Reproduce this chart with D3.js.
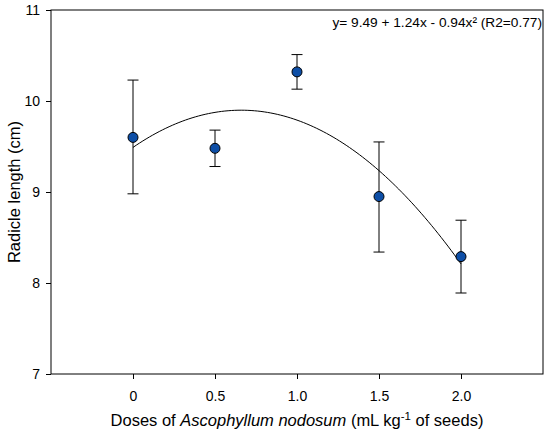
<!DOCTYPE html>
<html>
<head>
<meta charset="utf-8">
<script src="https://cdn.jsdelivr.net/npm/d3@7"></script>
<style>
  body { margin: 0; background: #fff; }
  text { font-family: "Liberation Sans", Arial, sans-serif; fill: #000; }
</style>
</head>
<body>
<div id="chart"></div>
<script>
// data
const doses = [0, 0.5, 1.0, 1.5, 2.0];
const means = [9.60, 9.48, 10.32, 8.95, 8.29];
const errUp = [10.23, 9.68, 10.51, 9.55, 8.69];
const errDown = [8.98, 9.28, 10.13, 8.34, 7.89];
const xTicks = [0, 0.5, 1.0, 1.5, 2.0];
const xTickLabels = ["0", "0.5", "1.0", "1.5", "2.0"];
const yTicks = [7, 8, 9, 10, 11];
// regression coefficients shown in the top-right label
const coef = [9.49, 1.24, -0.94];

var width = 550;
var height = 437;
var margin = { top: 10, right: 7, bottom: 63, left: 51 };
var w = width - margin.left - margin.right;
var h = height - margin.top - margin.bottom;

var svg = d3.select("#chart").append("svg")
  .attr("width", width)
  .attr("height", height);

var g = svg.append("g")
  .attr("transform", "translate(" + margin.left + "," + margin.top + ")");

var x = d3.scaleLinear().domain([-0.5, 2.5]).range([0, w]);
var y = d3.scaleLinear().domain([7, 11]).range([h, 0]);

// frame
g.append("rect")
  .attr("width", w)
  .attr("height", h)
  .attr("fill", "none")
  .attr("stroke", "#000")
  .attr("stroke-width", 1);

// axes
var xAxis = g.append("g")
  .attr("transform", "translate(0," + h + ")")
  .call(d3.axisBottom(x).tickValues(xTicks)
    .tickFormat((d, i) => xTickLabels[i]).tickSize(5).tickPadding(12));
var yAxis = g.append("g")
  .call(d3.axisLeft(y).tickValues(yTicks).tickFormat(d3.format("d"))
    .tickSize(5).tickPadding(6));
[xAxis, yAxis].forEach(a => {
  a.select(".domain").remove();
  a.selectAll("text").style("font-size", "14px").attr("fill", "#000");
  a.selectAll("line").attr("stroke", "#000");
});

// fitted curve
var curveX = d3.range(0, 2.0001, 0.02);
var line = d3.line()
  .x(d => x(d))
  .y(d => y(coef[0] + coef[1] * d + coef[2] * d * d));
g.append("path")
  .datum(curveX)
  .attr("d", line)
  .attr("fill", "none")
  .attr("stroke", "#000")
  .attr("stroke-width", 1);

// error bars
var cap = 5.5;
var bars = g.selectAll(".err").data(doses).enter().append("g").attr("class", "err");
bars.append("line")
  .attr("x1", d => x(d)).attr("x2", d => x(d))
  .attr("y1", (d, i) => y(errUp[i])).attr("y2", (d, i) => y(errDown[i]))
  .attr("stroke", "#000");
bars.append("line")
  .attr("x1", d => x(d) - cap).attr("x2", d => x(d) + cap)
  .attr("y1", (d, i) => y(errUp[i])).attr("y2", (d, i) => y(errUp[i]))
  .attr("stroke", "#000");
bars.append("line")
  .attr("x1", d => x(d) - cap).attr("x2", d => x(d) + cap)
  .attr("y1", (d, i) => y(errDown[i])).attr("y2", (d, i) => y(errDown[i]))
  .attr("stroke", "#000");

// points
g.selectAll(".pt").data(doses).enter().append("circle")
  .attr("class", "pt")
  .attr("cx", d => x(d))
  .attr("cy", (d, i) => y(means[i]))
  .attr("r", 5)
  .attr("fill", "#0d4ea6")
  .attr("stroke", "#000")
  .attr("stroke-width", 1);

// equation
g.append("text")
  .attr("x", w - 1)
  .attr("y", 17)
  .attr("text-anchor", "end")
  .style("font-size", "13.7px")
  .text("y= 9.49 + 1.24x - 0.94x² (R2=0.77)");

// y label
svg.append("text")
  .attr("transform", "translate(20," + (margin.top + h / 2) + ") rotate(-90)")
  .attr("text-anchor", "middle")
  .style("font-size", "16.5px")
  .text("Radicle length (cm)");

// x label
var xl = svg.append("text")
  .attr("x", margin.left + w / 2)
  .attr("y", 426)
  .attr("text-anchor", "middle")
  .style("font-size", "16.5px");
xl.append("tspan").text("Doses of ");
xl.append("tspan").style("font-style", "italic").text("Ascophyllum nodosum");
xl.append("tspan").text(" (mL kg");
xl.append("tspan").attr("dy", -6).style("font-size", "11.5px").text("-1");
xl.append("tspan").attr("dy", 6).text(" of seeds)");
</script>
</body>
</html>
